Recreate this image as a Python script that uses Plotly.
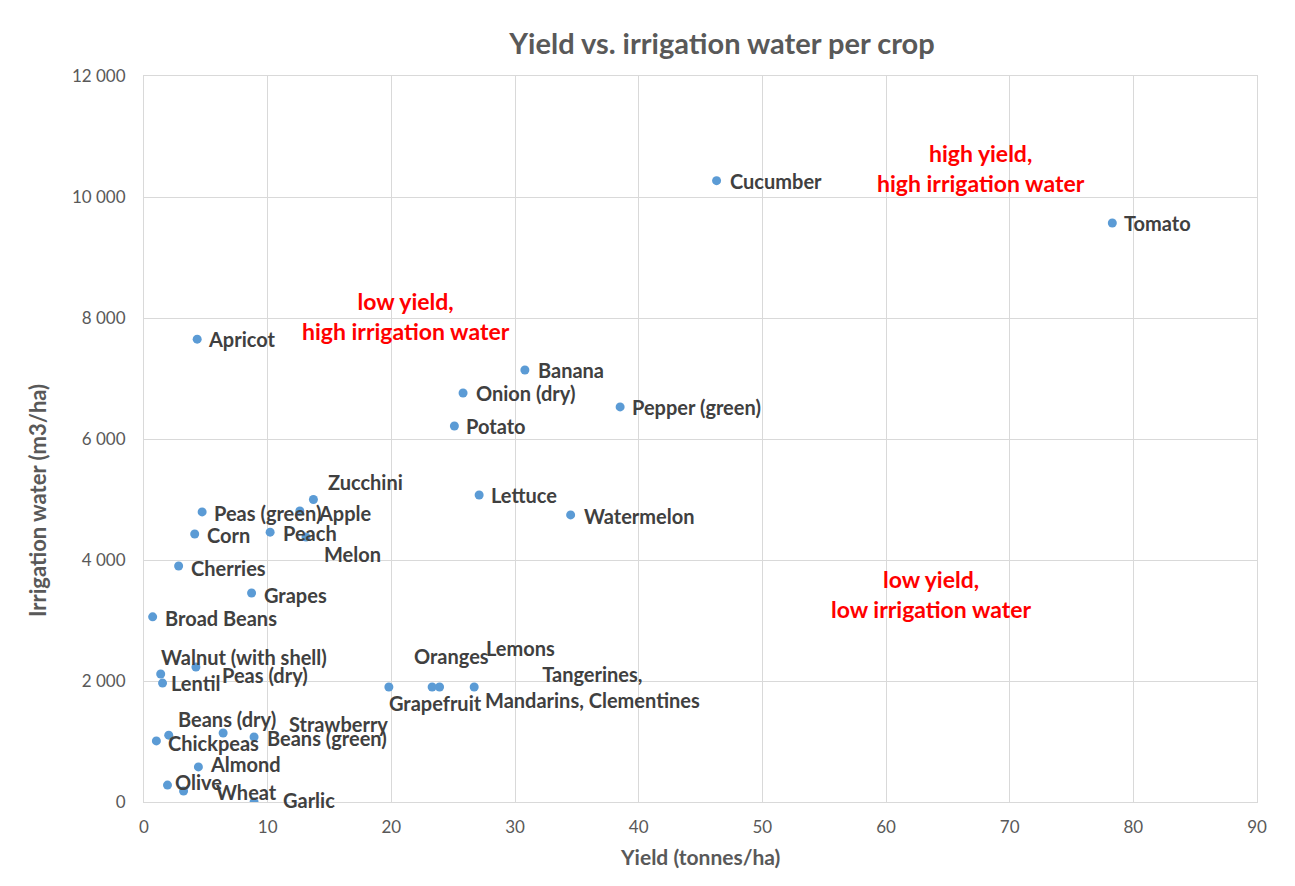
import plotly.graph_objects as go

# crop data (yield in tonnes/ha, irrigation in m3/ha)
crops = [
    "Cucumber", "Tomato", "Apricot", "Banana", "Onion (dry)", "Pepper (green)",
    "Potato", "Lettuce", "Watermelon", "Zucchini", "Apple", "Peas (green)",
    "Corn", "Peach", "Melon", "Cherries", "Grapes", "Broad Beans",
    "Walnut (with shell)", "Peas (dry)", "Lentil", "Grapefruit", "Oranges",
    "Lemons", "Tangerines,<br>Mandarins, Clementines", "Beans (dry)", "Chickpeas",
    "Strawberry", "Beans (green)", "Almond", "Olive", "Wheat", "Garlic",
]
yield_t = [
    46.3, 78.3, 4.3, 30.8, 25.8, 38.5,
    25.1, 27.1, 34.5, 13.7, 12.6, 4.7,
    4.1, 10.2, 13.1, 2.8, 8.7, 0.7,
    1.35, 4.2, 1.5, 19.8, 23.3,
    23.9, 26.7, 2.0, 1.0,
    6.4, 8.9, 4.4, 1.9, 3.2, 8.9,
]
water = [
    10270, 9570, 7650, 7140, 6760, 6530,
    6215, 5075, 4745, 5000, 4810, 4795,
    4430, 4460, 4380, 3900, 3455, 3060,
    2115, 2230, 1965, 1900, 1900,
    1900, 1900, 1105, 1010,
    1140, 1075, 580, 280, 180, 0,
]

# label placement (pixel offsets from the point, Excel-style manual moves)
label_dx = [14, 13, 12, 14, 14, 13, 13, 13, 14, 16, 19, 13, 13, 14, 19, 13, 13, 13,
            1, 27, 9, 1, -17, 47, 118, 10, 13, 67, 14, 13, 8, 33, 30]
label_dy = [0, 0, 0, 0, 0, 0, 0, 0, 1, -18, 2, 1, 1, 1, 17, 2, 2, 1,
            -17, 8, 0, 16, -31, -39, 0, -16, 2, -9, 1, -3, -3, 1, -2]

quadrant_notes = ["high yield,<br>high irrigation water",
                  "low yield,<br>high irrigation water",
                  "low yield,<br>low irrigation water"]
note_x = [67.7, 21.2, 63.6]
note_y = [10480, 8035, 3430]

OFF = 8  # page body margin
W, H = 1295 - OFF, 886 - OFF
ML, MT = 144 - OFF, 76 - OFF
MR, MB = W - (1257 - OFF), H - (802 - OFF)
PW, PH = W - ML - MR, H - MT - MB
FONT = "Lato"
GRID = "#d9d9d9"


def px_x(p):
    return (p - OFF - ML) / PW


def px_y(p):
    return (H - MB - (p - OFF)) / PH


fig = go.Figure()
fig.add_trace(go.Scatter(
    x=yield_t, y=water, mode="markers", text=crops,
    marker=dict(color="#5b9bd5", size=9),
    hovertemplate="%{text}<br>%{x} t/ha<br>%{y} m3/ha<extra></extra>",
    showlegend=False,
))

for name, x, y, dx, dy in zip(crops, yield_t, water, label_dx, label_dy):
    centred = "<br>" in name
    fig.add_annotation(
        x=x, y=y, xref="x", yref="y", text=name, showarrow=False,
        xanchor="center" if centred else "left", yanchor="middle",
        xshift=dx - (0 if centred else 3), yshift=-dy,
        font=dict(family=FONT, size=20, color="#404040", weight="bold"),
    )

for txt, x, y in zip(quadrant_notes, note_x, note_y):
    fig.add_annotation(
        x=x, y=y, xref="x", yref="y", text=txt, showarrow=False,
        xanchor="center", yanchor="middle", align="center",
        font=dict(family=FONT, size=23, color="#ff0000", weight="bold"),
    )

# axis titles
fig.add_annotation(
    text="Yield (tonnes/ha)", xref="paper", yref="paper",
    x=px_x(700), y=px_y(856), showarrow=False,
    xanchor="center", yanchor="middle",
    font=dict(family=FONT, size=21, color="#595959", weight="bold"),
)
fig.add_annotation(
    text="Irrigation water (m3/ha)", xref="paper", yref="paper",
    x=px_x(37), y=px_y(501), showarrow=False, textangle=-90,
    xanchor="center", yanchor="middle",
    font=dict(family=FONT, size=22, color="#595959", weight="bold"),
)

# chart border
fig.add_shape(
    type="rect", xref="paper", yref="paper",
    x0=px_x(7), x1=px_x(1288), y0=px_y(892), y1=px_y(5),
    line=dict(color=GRID, width=1), layer="below",
)

fig.update_layout(
    width=W, height=H,
    margin=dict(l=ML, r=MR, t=MT, b=MB),
    paper_bgcolor="white", plot_bgcolor="white",
    separators=". ",
    title=dict(
        text="Yield vs. irrigation water per crop",
        x=(722 - OFF) / W, xref="container", xanchor="center",
        y=1 - (44 - OFF) / H, yref="container", yanchor="middle",
        font=dict(family=FONT, size=29, color="#595959", weight="bold"),
    ),
    font=dict(family=FONT),
)
fig.update_xaxes(
    range=[0, 90], dtick=10, tick0=0,
    showgrid=True, gridcolor=GRID, gridwidth=1,
    zeroline=False, showline=True, linecolor=GRID, mirror=True,
    ticks="", ticklabelstandoff=10,
    tickfont=dict(family=FONT, size=17, color="#595959"),
)
fig.update_yaxes(
    range=[0, 12000], dtick=2000, tick0=0, tickformat=",d",
    showgrid=True, gridcolor=GRID, gridwidth=1,
    zeroline=False, showline=True, linecolor=GRID, mirror=True,
    ticks="", ticklabelstandoff=14,
    tickfont=dict(family=FONT, size=17, color="#595959"),
)

fig.write_html("out.html")
